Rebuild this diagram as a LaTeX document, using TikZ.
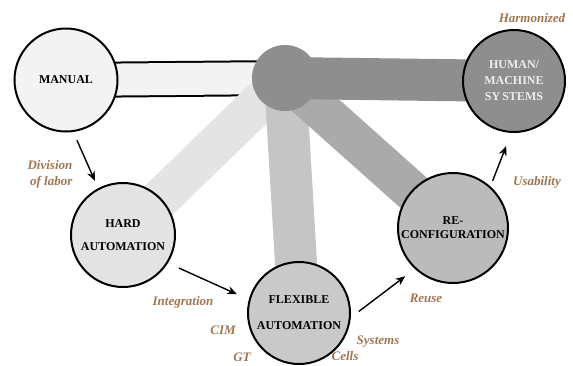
\documentclass[tikz,border=0pt]{standalone}
\usepackage{fontspec}
\setmainfont{Liberation Serif}
\usetikzlibrary{arrows.meta,backgrounds}
\definecolor{lblbrown}{HTML}{9E7650}
\definecolor{manualfill}{HTML}{F3F3F3}
\definecolor{hardfill}{HTML}{E3E3E3}
\definecolor{flexfill}{HTML}{C9C9C9}
\definecolor{reconffill}{HTML}{BBBBBB}
\definecolor{hubgrey}{HTML}{8E8E8E}
\definecolor{hardband}{HTML}{E4E4E4}
\definecolor{flexband}{HTML}{C5C5C5}
\definecolor{reconfband}{HTML}{AAAAAA}

\begin{document}
\begin{tikzpicture}[x=1pt,y=-1pt,
  stage/.style={circle,draw=black,line width=2pt,inner sep=0pt,align=center,
                font=\bfseries\fontsize{12}{14}\selectfont},
  lbl/.style={font=\bfseries\itshape\fontsize{13}{16}\selectfont,text=lblbrown,inner sep=0pt},
  band/.style={draw=#1,line width=42pt},
  a/.style={-{Stealth[length=3.4mm,width=2.8mm]},line width=1.4pt}]
\useasboundingbox (0,0) rectangle (573,365);

% stages
\node[stage,fill=manualfill,minimum size=103pt](manual) at (66,80){MANUAL};
\node[circle,fill=hubgrey,inner sep=0pt,minimum size=66pt](hub) at (285,78){};
\node[stage,fill=hardfill,minimum size=104pt](hard) at (123,235){HARD\\[9pt]AUTOMATION};
\node[stage,fill=flexfill,minimum size=102pt](flex) at (299,313){FLEXIBLE\\[12pt]AUTOMATION};
\node[stage,fill=reconffill,minimum size=110pt](reconf) at (453,228){RE-\\CONFIGURATION};
\node[stage,fill=hubgrey,text=white!93!black,minimum size=102pt,font=\bfseries\fontsize{12}{16}\selectfont](human) at (514,81){HUMAN/\\MACHINE\\SY\,STEMS};

% bands behind the stages
\begin{scope}[on background layer]
\draw[line width=2pt,double=manualfill,double distance=32pt](manual.center)--(hub.center);
\draw[band=hardband,line width=40pt](hub.center)--(hard.center);
\draw[band=flexband](hub.center)--(flex.center);
\draw[band=reconfband,line width=40pt](hub.center)--(reconf.center);
\draw[band=hubgrey](hub.center)--(human.center);
\end{scope}

% transitions
\draw[a,shorten <=9pt,shorten >=8pt](manual.-82)--(hard.118);
\draw[a,shorten <=12pt,shorten >=13pt](hard.-32)--(flex.165);
\draw[a,shorten <=10pt,shorten >=12pt](flex.-5)--(reconf.-133);
\draw[a,shorten <=6pt,shorten >=14pt](reconf.48)--(human.-93);

% drivers
\node[lbl,align=right](division) at (50,174){Division\\of labor};
\node[lbl](integration) at (183,302){Integration};
\node[lbl](cim) at (223,330){CIM};
\node[lbl](gt) at (242,357){GT};
\node[lbl](systems) at (378,342){Systems};
\node[lbl](cells) at (345,356){Cells};
\node[lbl](reuse) at (426,298){Reuse};
\node[lbl](usability) at (537,182){Usability};
\node[lbl](harmonized) at (532,18){Harmonized};
\end{tikzpicture}
\end{document}
